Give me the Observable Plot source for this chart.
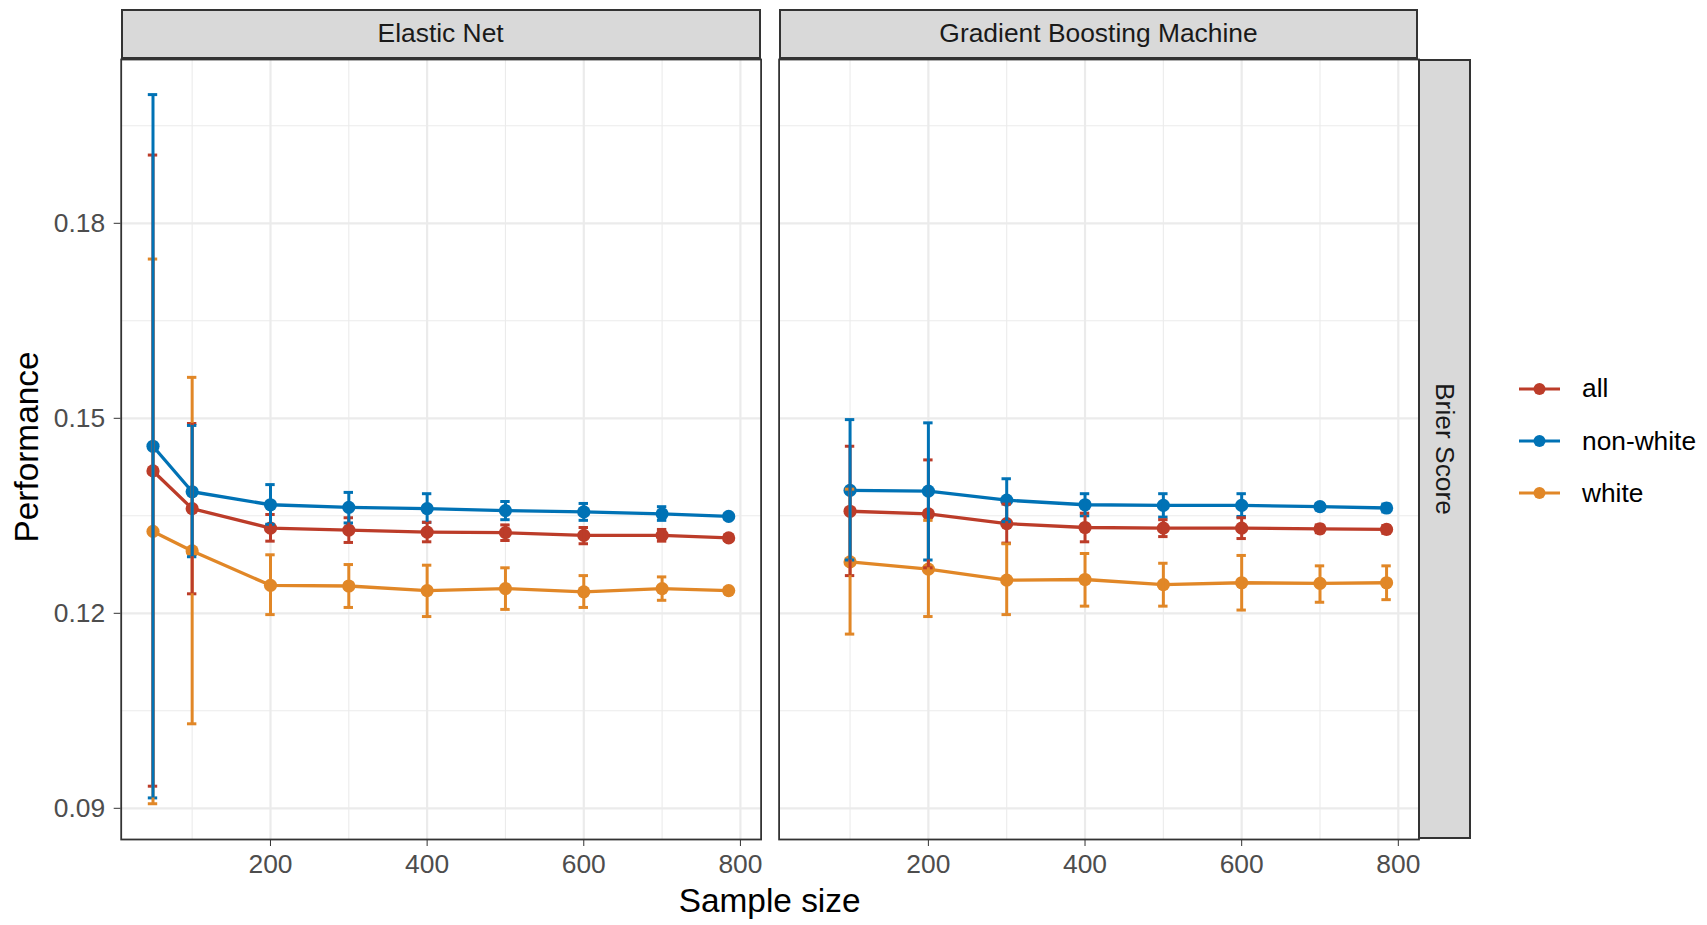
<!DOCTYPE html>
<html>
<head>
<meta charset="utf-8">
<script src="https://cdn.jsdelivr.net/npm/d3@7"></script>
<script src="https://cdn.jsdelivr.net/npm/@observablehq/plot@0.6"></script>
<style>
  body { margin: 0; background: #fff; font-family: "Liberation Sans", Arial, Helvetica, sans-serif; }
  #wrap { position: relative; width: 1707px; height: 925px; overflow: hidden; background: #fff; }
  #wrap > svg { position: absolute; left: 0; top: 0; }
  .strip { position: absolute; box-sizing: border-box; background: #D9D9D9; border: 2px solid #333;
           color: #1A1A1A; font-size: 26.4px; display: flex; align-items: center; justify-content: center; }
  .vstrip span { writing-mode: vertical-rl; }
  .title { position: absolute; color: #000; font-size: 33.4px; white-space: nowrap; }
  .legrow { position: absolute; display: flex; align-items: center; white-space: nowrap; font-size: 26.3px; color: #000; }
  svg [aria-label^="x-axis"] line, svg [aria-label^="y-axis"] line,
  svg [aria-label^="x-axis"] path, svg [aria-label^="y-axis"] path { stroke: #333; }
</style>
</head>
<body>
<div id="wrap"></div>
<script>
// ---------------- data ----------------
const models = ["Elastic Net", "Gradient Boosting Machine"];
const groups = ["all", "non-white", "white"];
const colors = ["#BC3C29", "#0072B5", "#E18727"];
const errorBarOrder = ["white", "all", "non-white"];

const sampleEN  = [50, 100, 200, 300, 400, 500, 600, 700, 785];
const sampleGBM = [100, 200, 300, 400, 500, 600, 700, 785];

// Elastic Net
const enAllMean = [0.1419, 0.1361, 0.1331, 0.1328, 0.1325, 0.1324, 0.1320, 0.1320, 0.1316];
const enAllLo   = [0.0934, 0.1230, 0.1311, 0.1309, 0.1310, 0.1312, 0.1307, 0.1311, 0.1312];
const enAllHi   = [0.1905, 0.1492, 0.1352, 0.1347, 0.1340, 0.1336, 0.1332, 0.1329, 0.1320];
const enNwMean  = [0.1457, 0.1387, 0.1367, 0.1363, 0.1361, 0.1358, 0.1356, 0.1353, 0.1349];
const enNwLo    = [0.0916, 0.1287, 0.1337, 0.1339, 0.1340, 0.1344, 0.1343, 0.1343, 0.1345];
const enNwHi    = [0.1998, 0.1489, 0.1398, 0.1386, 0.1384, 0.1372, 0.1369, 0.1364, 0.1353];
const enWMean   = [0.1326, 0.1296, 0.1243, 0.1242, 0.1235, 0.1238, 0.1233, 0.1238, 0.1235];
const enWLo     = [0.0907, 0.1030, 0.1198, 0.1209, 0.1195, 0.1206, 0.1209, 0.1220, 0.1231];
const enWHi     = [0.1745, 0.1563, 0.1290, 0.1275, 0.1274, 0.1270, 0.1258, 0.1256, 0.1239];

// Gradient Boosting Machine
const gbAllMean = [0.1357, 0.1353, 0.1338, 0.1332, 0.1331, 0.1331, 0.1330, 0.1329];
const gbAllLo   = [0.1258, 0.1270, 0.1308, 0.1310, 0.1318, 0.1315, 0.1324, 0.1323];
const gbAllHi   = [0.1457, 0.1436, 0.1368, 0.1354, 0.1344, 0.1347, 0.1336, 0.1335];
const gbNwMean  = [0.1389, 0.1388, 0.1374, 0.1367, 0.1366, 0.1366, 0.1364, 0.1362];
const gbNwLo    = [0.1282, 0.1282, 0.1341, 0.1350, 0.1348, 0.1349, 0.1359, 0.1356];
const gbNwHi    = [0.1498, 0.1493, 0.1407, 0.1384, 0.1384, 0.1384, 0.1369, 0.1368];
const gbWMean   = [0.1279, 0.1268, 0.1251, 0.1252, 0.1244, 0.1247, 0.1246, 0.1247];
const gbWLo     = [0.1168, 0.1195, 0.1198, 0.1211, 0.1211, 0.1205, 0.1217, 0.1221];
const gbWHi     = [0.1391, 0.1343, 0.1307, 0.1292, 0.1277, 0.1289, 0.1273, 0.1273];

const xTicks = [200, 400, 600, 800];
const xMinor = [100, 300, 500, 700];
const yTicks = [0.09, 0.12, 0.15, 0.18];
const yMinor = [0.105, 0.135, 0.165, 0.195];

// ---------------- table ----------------
const rows = [];
function addSeries(model, group, ns, mean, lo, hi) {
  ns.forEach((n, i) => rows.push({model, group, n, mean: mean[i], lo: lo[i], hi: hi[i]}));
}
addSeries(models[0], "all", sampleEN, enAllMean, enAllLo, enAllHi);
addSeries(models[0], "non-white", sampleEN, enNwMean, enNwLo, enNwHi);
addSeries(models[0], "white", sampleEN, enWMean, enWLo, enWHi);
addSeries(models[1], "all", sampleGBM, gbAllMean, gbAllLo, gbAllHi);
addSeries(models[1], "non-white", sampleGBM, gbNwMean, gbNwLo, gbNwHi);
addSeries(models[1], "white", sampleGBM, gbWMean, gbWLo, gbWHi);

// ---------------- layout ----------------
const W = 1707, H = 925;
const ML = 120.7, MR = 288.5, MT = 59, MB = 86;
const PI = 0.02736;
const FONT = '"Liberation Sans", Arial, Helvetica, sans-serif';
const capHalf = 6;
const errSort = d => errorBarOrder.indexOf(d.group);

const chart = Plot.plot({
  width: W, height: H,
  marginLeft: ML, marginRight: MR, marginTop: MT, marginBottom: MB,
  style: {fontFamily: FONT, fontSize: "26.4px", color: "#4D4D4D", background: "transparent", overflow: "visible"},
  facet: {data: rows, x: "model"},
  fx: {domain: models, paddingInner: PI, paddingOuter: 0, round: false, axis: null, label: null},
  x: {domain: [9.4, 826.4], ticks: xTicks, tickSize: 7, tickPadding: 8, label: null},
  y: {domain: [0.0852, 0.2052], ticks: yTicks, tickFormat: d3.format(".2f"), tickSize: 7, tickPadding: 9, label: null},
  color: {domain: groups, range: colors},
  marks: [
    Plot.ruleX(xMinor, {stroke: "#EBEBEB", strokeWidth: 1.1}),
    Plot.ruleY(yMinor, {stroke: "#EBEBEB", strokeWidth: 1.1}),
    Plot.ruleX(xTicks, {stroke: "#EBEBEB", strokeWidth: 2.2}),
    Plot.ruleY(yTicks, {stroke: "#EBEBEB", strokeWidth: 2.2}),
    Plot.line(rows, {x: "n", y: "mean", z: "group", stroke: "group", strokeWidth: 3.3}),
    Plot.dot(rows, {x: "n", y: "mean", fill: "group", r: 6.6}),
    Plot.ruleY(rows, {y: "lo", x1: d => d.n - capHalf, x2: d => d.n + capHalf, stroke: "group", strokeWidth: 3, sort: errSort}),
    Plot.ruleY(rows, {y: "hi", x1: d => d.n - capHalf, x2: d => d.n + capHalf, stroke: "group", strokeWidth: 3, sort: errSort}),
    Plot.ruleX(rows, {x: "n", y1: "lo", y2: "hi", stroke: "group", strokeWidth: 3, sort: errSort}),
    Plot.frame({stroke: "#333333", strokeWidth: 1.8})
  ]
});

const wrap = document.getElementById("wrap");
wrap.appendChild(chart);

// panel geometry (same as the fx band scale)
const R = W - ML - MR;
const step = R / (models.length - PI);
const bw = step * (1 - PI);
const panelTop = MT, panelBottom = H - MB;

function el(tag, cls, style, text) {
  const e = document.createElement(tag);
  if (cls) e.className = cls;
  Object.assign(e.style, style);
  if (text != null) e.textContent = text;
  wrap.appendChild(e);
  return e;
}

// top strips
models.forEach((m, i) => {
  const x0 = ML + i * step;
  el("div", "strip", {left: x0 + "px", top: "8.5px", width: bw + "px", height: (panelTop - 8.5) + "px"}, m);
});

// right strip
const rs = el("div", "strip vstrip", {left: (ML + step + bw - 1) + "px", top: panelTop + "px",
  width: "53px", height: (panelBottom - panelTop) + "px"});
const rsText = document.createElement("span");
rsText.textContent = "Brier Score";
rs.appendChild(rsText);

// axis titles
el("div", "title", {left: "27px", top: ((panelTop + panelBottom) / 2 - 2) + "px",
  transform: "translate(-50%, -50%) rotate(-90deg)"}, "Performance");
el("div", "title", {left: (ML + R / 2) + "px", top: "901px",
  transform: "translate(-50%, -50%)"}, "Sample size");

// legend
const legY = [388.6, 441, 493];
groups.forEach((g, i) => {
  const row = el("div", "legrow", {left: "1518px", top: (legY[i] - 16) + "px", height: "32px"});
  const ns = "http://www.w3.org/2000/svg";
  const s = document.createElementNS(ns, "svg");
  s.setAttribute("width", "43"); s.setAttribute("height", "32");
  const ln = document.createElementNS(ns, "line");
  ln.setAttribute("x1", "1"); ln.setAttribute("x2", "42"); ln.setAttribute("y1", "16"); ln.setAttribute("y2", "16");
  ln.setAttribute("stroke", colors[i]); ln.setAttribute("stroke-width", "3");
  const c = document.createElementNS(ns, "circle");
  c.setAttribute("cx", "21.5"); c.setAttribute("cy", "16"); c.setAttribute("r", "6"); c.setAttribute("fill", colors[i]);
  s.appendChild(ln); s.appendChild(c);
  row.appendChild(s);
  const t = document.createElement("span");
  t.textContent = g;
  t.style.marginLeft = "21px";
  row.appendChild(t);
});
</script>
</body>
</html>
